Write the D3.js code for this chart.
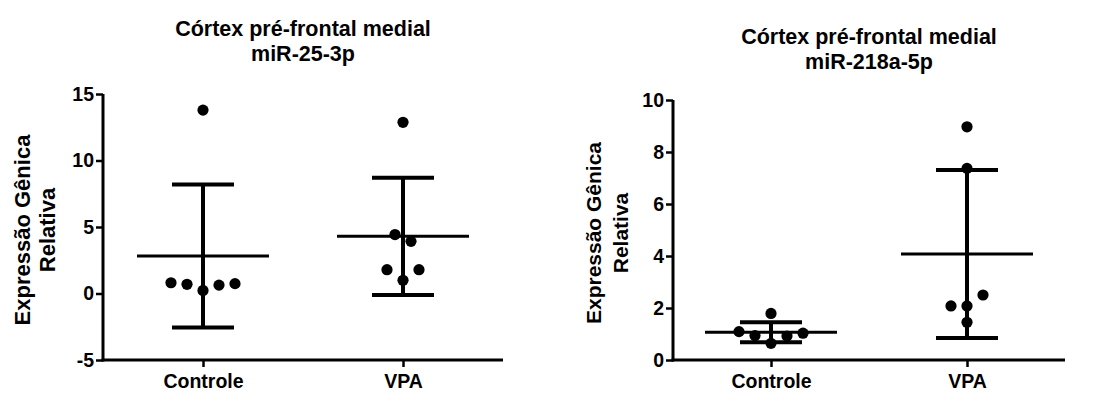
<!DOCTYPE html>
<html lang="pt">
<head>
<meta charset="UTF-8">
<title>Córtex pré-frontal medial</title>
<script src="https://d3js.org/d3.v7.min.js"></script>
<style>
  body { margin: 0; background: #fff; }
  svg text { font-family: "Liberation Sans", Arial, sans-serif; font-weight: bold; fill: #000; }
</style>
</head>
<body>
<script>
// groups on the x axis
const groups = ["Controle", "VPA"];

// miR-25-3p values
const mir25Controle = [0.81, 0.69, 0.23, 0.63, 0.74, 13.79];
const mir25VPA = [12.87, 4.43, 3.92, 1.79, 1.79, 0.99];
// jitter slots (horizontal spread of overlapping dots)
const mir25ControleSlot = [-4, -2, 0, 2, 4, 0];
const mir25VPASlot = [0, -1, 1, -2, 2, 0];
const mir25Ticks = [-5, 0, 5, 10, 15];

// miR-218a-5p values
const mir218Controle = [1.09, 0.94, 1.79, 0.64, 0.92, 1.03];
const mir218VPA = [8.97, 7.37, 2.50, 2.08, 2.08, 1.45];
const mir218ControleSlot = [-4, -2, 0, 0, 2, 4];
const mir218VPASlot = [0, 0, 2, -2, 0, 0];
const mir218Ticks = [0, 2, 4, 6, 8, 10];

const W = 1115, H = 406;
const svg = d3.select("body").append("svg")
    .attr("width", W)
    .attr("height", H);

function drawPanel(p) {
    const x = d3.scalePoint().domain(groups).range([p.left, p.right]).padding(0.5);
    const y = d3.scaleLinear().domain(d3.extent(p.ticks)).range([p.bottom, p.top]);
    const g = svg.append("g");

    // titles
    const cx = (p.left + p.right) / 2;
    p.title.forEach((t, i) => {
        g.append("text")
            .attr("x", cx)
            .attr("y", p.titleY + i * 25)
            .attr("text-anchor", "middle")
            .style("font-size", "21.5px")
            .text(t);
    });

    // y label (two lines)
    ["Expressão Gênica", "Relativa"].forEach((t, i) => {
        g.append("text")
            .attr("transform", `translate(${p.labelX[i]},${(p.top + p.bottom) / 2 + 3}) rotate(-90)`)
            .attr("text-anchor", "middle")
            .style("font-size", p.labelSize + "px")
            .text(t);
    });

    // axes (plain hyphen for negatives, like the original)
    const yAxis = g.append("g")
        .attr("transform", `translate(${p.left},0)`)
        .call(d3.axisLeft(y).tickValues(p.ticks).tickFormat(d => String(d))
            .tickSize(7).tickSizeOuter(0).tickPadding(2));
    const xAxis = g.append("g")
        .attr("transform", `translate(0,${p.bottom})`)
        .call(d3.axisBottom(x).tickSize(7).tickSizeOuter(0).tickPadding(7));
    [yAxis, xAxis].forEach(a => {
        a.select(".domain").attr("stroke", "#000").attr("stroke-width", 3);
        a.selectAll(".tick line").attr("stroke", "#000").attr("stroke-width", 2.5);
        a.selectAll(".tick text").style("font-size", "19.5px");
    });
    // domain lines meet at the corner
    yAxis.select(".domain").attr("d", `M0,${p.top}V${p.bottom + 1.5}`);
    xAxis.select(".domain").attr("d", `M${p.left - 1.5},0H${p.right}`);

    // mean ± SD and dots for each group
    p.series.forEach((s, gi) => {
        const gx = x(groups[gi]);
        const m = d3.mean(s.values);
        const sd = d3.deviation(s.values);

        g.append("line")
            .attr("x1", gx - 66).attr("x2", gx + 66)
            .attr("y1", y(m)).attr("y2", y(m))
            .attr("stroke", "#000").attr("stroke-width", 3);
        g.append("line")
            .attr("x1", gx).attr("x2", gx)
            .attr("y1", y(m + sd)).attr("y2", y(m - sd))
            .attr("stroke", "#000").attr("stroke-width", 4);
        [m + sd, m - sd].forEach(v => {
            g.append("line")
                .attr("x1", gx - 31).attr("x2", gx + 31)
                .attr("y1", y(v)).attr("y2", y(v))
                .attr("stroke", "#000").attr("stroke-width", 4);
        });

        g.selectAll(null)
            .data(s.values)
            .enter()
            .append("circle")
            .attr("cx", (d, i) => gx + s.slots[i] * 8)
            .attr("cy", d => y(d))
            .attr("r", 5.6)
            .attr("fill", "#000");
    });
}

drawPanel({
    title: ["Córtex pré-frontal medial", "miR-25-3p"],
    titleY: 36,
    labelX: [30, 55],
    labelSize: 22,
    left: 103, right: 503, top: 94, bottom: 360,
    ticks: mir25Ticks,
    series: [
        { values: mir25Controle, slots: mir25ControleSlot },
        { values: mir25VPA, slots: mir25VPASlot }
    ]
});

drawPanel({
    title: ["Córtex pré-frontal medial", "miR-218a-5p"],
    titleY: 44,
    labelX: [601, 628],
    labelSize: 21,
    left: 673, right: 1065, top: 100, bottom: 360,
    ticks: mir218Ticks,
    series: [
        { values: mir218Controle, slots: mir218ControleSlot },
        { values: mir218VPA, slots: mir218VPASlot }
    ]
});
</script>
</body>
</html>
